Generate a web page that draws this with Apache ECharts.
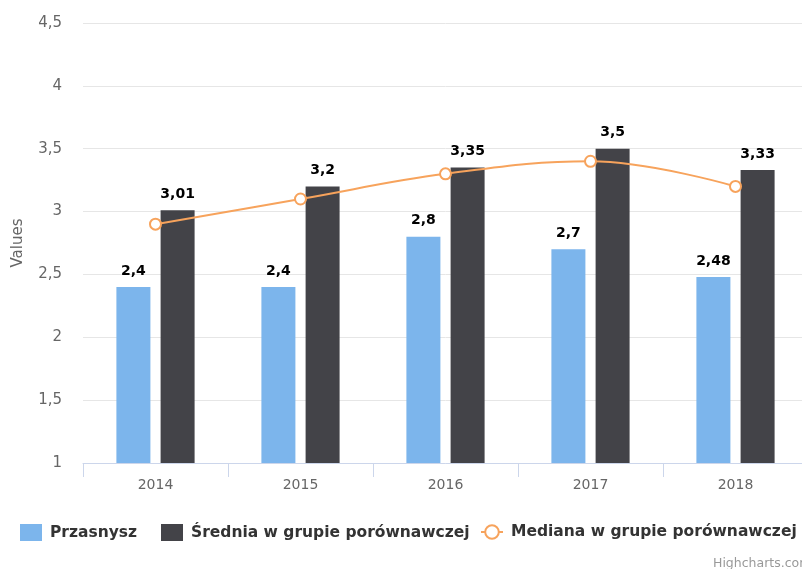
<!DOCTYPE html>
<html><head><meta charset="utf-8">
<script src="https://cdn.jsdelivr.net/npm/echarts@6/dist/echarts.min.js"></script>
<style>html,body{margin:0;padding:0;background:#fff;overflow:hidden}#c{width:810px;height:569px}</style>
</head><body><div id="c"></div>
<script>
var categories = ['2014', '2015', '2016', '2017', '2018'];
var przasnysz = [2.4, 2.4, 2.8, 2.7, 2.48];
var srednia = [3.01, 3.2, 3.35, 3.5, 3.33];
var mediana = [2.9, 3.1, 3.3, 3.4, 3.2];
var yTicks = [1, 1.5, 2, 2.5, 3, 3.5, 4, 4.5];
var seriesNames = ['Przasnysz', 'Średnia w grupie porównawczej', 'Mediana w grupie porównawczej'];

function pl(v){ return String(v).replace('.', ','); }
var labelStyle = {
  show: true, position: 'top', distance: 9,
  fontFamily: 'DejaVu Sans', fontWeight: 'bold', fontSize: 14, color: '#000',
  formatter: function(p){ return pl(p.value); }
};
var legendText = {fontFamily: 'DejaVu Sans', fontWeight: 'bold', fontSize: 15.5, color: '#333', padding: [0,0,0,3]};
function mkLegend(name, left, icon){
  var l = {left: left, top: 524, itemWidth: 22, itemHeight: 17, padding: 0,
    textStyle: legendText, data: [name]};
  if (icon) l.icon = icon;
  return l;
}
var chart = echarts.init(document.getElementById('c'), null, {renderer:'canvas'});
chart.setOption({
  animation: false,
  backgroundColor: '#fff',
  grid: {left: 83, right: 2, top: 23, bottom: 106, containLabel: false},
  legend: [
    mkLegend(seriesNames[0], 20, 'rect'),
    mkLegend(seriesNames[1], 161, 'rect'),
    mkLegend(seriesNames[2], 480, null)
  ],
  xAxis: {
    type: 'category', data: categories,
    axisLine: {lineStyle: {color: '#ccd6eb'}},
    axisTick: {show: true, length: 14, lineStyle: {color: '#ccd6eb'}},
    axisLabel: {fontFamily: 'DejaVu Sans', fontSize: 14, color: '#666', margin: 15}
  },
  yAxis: {
    type: 'value', min: yTicks[0], max: yTicks[yTicks.length-1], interval: 0.5,
    name: 'Values', nameLocation: 'middle', nameGap: 57, nameRotate: 90,
    nameTextStyle: {fontFamily: 'DejaVu Sans', fontSize: 15, color: '#666'},
    axisLine: {show: false}, axisTick: {show: false},
    splitLine: {lineStyle: {color: '#e6e6e6'}},
    axisLabel: {fontFamily: 'DejaVu Sans', fontSize: 15, color: '#666', margin: 21, formatter: function(v){ return pl(v); }}
  },
  series: [
    {name: seriesNames[0], type: 'bar', data: przasnysz, barWidth: 34, barGap: '30%',
     itemStyle: {color: '#7cb5ec'}, label: labelStyle},
    {name: seriesNames[1], type: 'bar', data: srednia, barWidth: 34,
     itemStyle: {color: '#434348'}, label: labelStyle},
    {name: seriesNames[2], type: 'line', data: mediana, smooth: 0.4,
     symbol: 'circle', symbolSize: 11, z: 5,
     lineStyle: {color: '#f7a35c', width: 2},
     itemStyle: {color: '#fff', borderColor: '#f7a35c', borderWidth: 2}}
  ],
  graphic: [{type: 'text', left: 713, top: 557,
    style: {text: 'Highcharts.com', fontFamily: 'DejaVu Sans', fontSize: 12.5, fill: '#999'}}]
});
</script></body></html>
